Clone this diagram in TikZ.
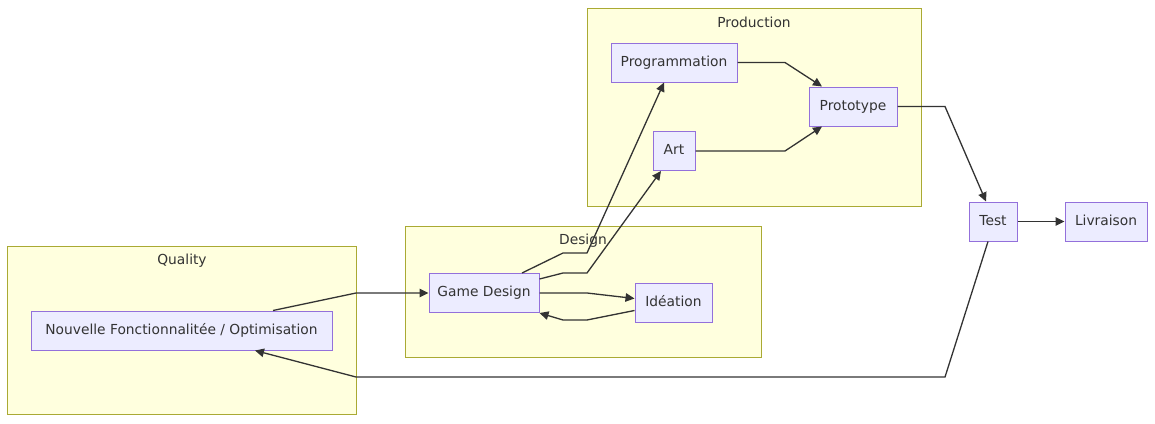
\documentclass[tikz,border=0pt]{standalone}
\usepackage{fontspec}
\setmainfont{DejaVu Sans}
\usetikzlibrary{arrows.meta,calc}
\definecolor{clfill}{HTML}{FFFFDE}
\definecolor{cldraw}{HTML}{AAAA33}
\definecolor{ndfill}{HTML}{ECECFF}
\definecolor{nddraw}{HTML}{9370DB}
\definecolor{edge}{HTML}{333333}
\definecolor{txt}{HTML}{333333}
\begin{document}
\begin{tikzpicture}[x=1pt,y=-1pt,
  cluster/.style={draw=cldraw,fill=clfill,line width=1pt},
  cltitle/.style={text=txt,font=\fontsize{13.8}{16}\selectfont,inner sep=0pt},
  box/.style={draw=nddraw,fill=ndfill,line width=1pt,text=txt,font=\fontsize{13.8}{16}\selectfont,inner sep=0pt,minimum height=39pt,text height=10pt,text depth=3pt},
  link/.style={draw=edge,line width=1.3pt,-{Triangle[length=9pt,width=8.5pt]}}]
\useasboundingbox (0,0) rectangle (1155,423);
% clusters
\draw[cluster] (587,8) rectangle (921,206);
\node[cltitle] (tprod) at (754,22) {Production};
\draw[cluster] (405,226) rectangle (761,357);
\node[cltitle] (tdes) at (583,241) {Design};
\draw[cluster] (7,246) rectangle (356,414);
\node[cltitle] (tqual) at (182,261) {Quality};
% nodes
\node[box,minimum width=126pt] (prog) at (674,62.5) {Programmation};
\node[box,minimum width=42pt] (art) at (674,151) {Art};
\node[box,minimum width=88pt] (proto) at (853,106.5) {Prototype};
\node[box,minimum width=110pt] (gd) at (484,293) {Game Design};
\node[box,minimum width=77pt] (idea) at (673.5,302.5) {Idéation};
\node[box,minimum width=301pt] (nouv) at (181.5,330.5) {Nouvelle Fonctionnalitée / Optimisation};
\node[box,minimum width=48pt] (test) at (993,221.5) {Test};
\node[box,minimum width=82pt] (livr) at (1106,221.5) {Livraison};
% edges
\draw[link] ([xshift=91.5pt]nouv.north) -- (356,293) -- (gd.west);
\draw[link] ([xshift=38pt]gd.north) -- (563,253) -- (587,253) -- ([xshift=-10pt]prog.south);
\draw[link] ([yshift=-6pt]gd.north east) -- (563,273) -- (587,273) -- ([xshift=-13pt]art.south);
\draw[link] (gd.east) -- (587,293) -- ([yshift=4pt]idea.west);
\draw[link] ([yshift=-8pt]idea.west) -- (587,320) -- (563,320) -- (gd.south east);
\draw[link] (prog.east) -- (785,62.5) -- ([xshift=-31pt]proto.north);
\draw[link] (art.east) -- (785,151) -- ([xshift=-31pt]proto.south);
\draw[link] (proto.east) -- (945,106.5) -- ([xshift=-7pt]test.north);
\draw[link] (test.east) -- (livr.west);
\draw[link] ([xshift=-5pt]test.south) -- (945,377) -- (356,377) -- ([xshift=73.5pt]nouv.south);
\end{tikzpicture}
\end{document}
